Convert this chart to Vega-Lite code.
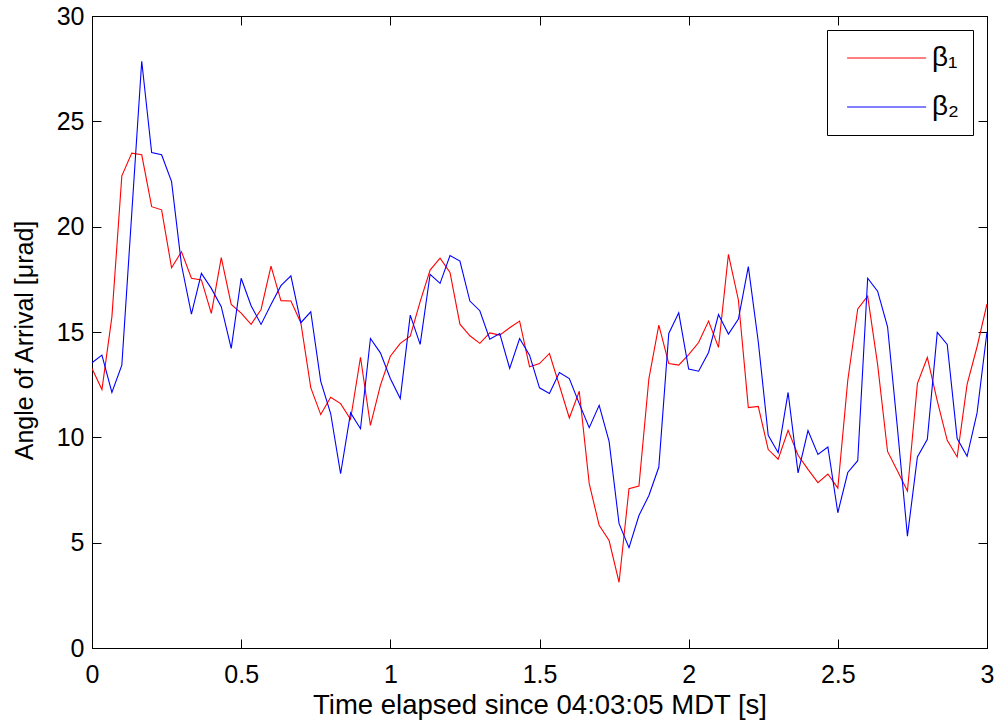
{
  "$schema": "https://vega.github.io/schema/vega-lite/v6.json",
  "width": 895,
  "height": 632,
  "autosize": {"type": "none"},
  "padding": {"left": 92, "top": 16, "right": 10, "bottom": 75},
  "background": "white",
  "config": {
    "font": "Liberation Sans",
    "view": {"stroke": "black", "strokeWidth": 1},
    "axis": {
      "domainColor": "black",
      "domainWidth": 1,
      "tickColor": "black",
      "tickWidth": 1,
      "tickSize": -9,
      "grid": false,
      "labelFont": "Liberation Sans",
      "labelFontSize": 25,
      "labelColor": "black",
      "titleFont": "Liberation Sans",
      "titleFontSize": 25,
      "titleFontWeight": "normal",
      "titleColor": "black"
    },
    "legend": {
      "orient": "top-right",
      "offset": 14,
      "title": null,
      "strokeColor": "black",
      "fillColor": "white",
      "padding": 14,
      "symbolType": "M-1,0H9",
      "symbolSize": 250,
      "symbolStrokeWidth": 1,
      "symbolFillColor": "transparent",
      "labelFont": "Liberation Sans",
      "labelFontSize": 28,
      "labelColor": "black",
      "labelOffset": 63,
      "rowPadding": 21
    }
  },
  "data": {
    "values": [
      {"t": 0.0, "b1": 13.27, "b2": 13.54},
      {"t": 0.0333, "b1": 12.27, "b2": 13.90},
      {"t": 0.0667, "b1": 15.72, "b2": 12.13},
      {"t": 0.1, "b1": 22.41, "b2": 13.43},
      {"t": 0.1333, "b1": 23.49, "b2": 20.64},
      {"t": 0.1667, "b1": 23.41, "b2": 27.85},
      {"t": 0.2, "b1": 20.95, "b2": 23.52},
      {"t": 0.2333, "b1": 20.80, "b2": 23.41},
      {"t": 0.2667, "b1": 18.05, "b2": 22.14},
      {"t": 0.3, "b1": 18.81, "b2": 18.18},
      {"t": 0.3333, "b1": 17.55, "b2": 15.85},
      {"t": 0.3667, "b1": 17.47, "b2": 17.78},
      {"t": 0.4, "b1": 15.88, "b2": 17.07},
      {"t": 0.4333, "b1": 18.53, "b2": 16.20},
      {"t": 0.4667, "b1": 16.31, "b2": 14.22},
      {"t": 0.5, "b1": 15.90, "b2": 17.55},
      {"t": 0.5333, "b1": 15.36, "b2": 16.25},
      {"t": 0.5667, "b1": 16.07, "b2": 15.36},
      {"t": 0.6, "b1": 18.13, "b2": 16.31},
      {"t": 0.6333, "b1": 16.49, "b2": 17.20},
      {"t": 0.6667, "b1": 16.47, "b2": 17.66},
      {"t": 0.7, "b1": 15.44, "b2": 15.44},
      {"t": 0.7333, "b1": 12.36, "b2": 15.96},
      {"t": 0.7667, "b1": 11.08, "b2": 12.66},
      {"t": 0.8, "b1": 11.90, "b2": 11.13},
      {"t": 0.8333, "b1": 11.60, "b2": 8.27},
      {"t": 0.8667, "b1": 10.86, "b2": 11.16},
      {"t": 0.9, "b1": 13.80, "b2": 10.41},
      {"t": 0.9333, "b1": 10.57, "b2": 14.69},
      {"t": 0.9667, "b1": 12.47, "b2": 14.01},
      {"t": 1.0, "b1": 13.85, "b2": 12.79},
      {"t": 1.0333, "b1": 14.46, "b2": 11.84},
      {"t": 1.0667, "b1": 14.80, "b2": 15.80},
      {"t": 1.1, "b1": 16.44, "b2": 14.41},
      {"t": 1.1333, "b1": 17.94, "b2": 17.74},
      {"t": 1.1667, "b1": 18.50, "b2": 17.31},
      {"t": 1.2, "b1": 17.83, "b2": 18.63},
      {"t": 1.2333, "b1": 15.37, "b2": 18.37},
      {"t": 1.2667, "b1": 14.82, "b2": 16.47},
      {"t": 1.3, "b1": 14.46, "b2": 16.01},
      {"t": 1.3333, "b1": 14.96, "b2": 14.66},
      {"t": 1.3667, "b1": 14.85, "b2": 14.93},
      {"t": 1.4, "b1": 15.20, "b2": 13.27},
      {"t": 1.4333, "b1": 15.52, "b2": 14.69},
      {"t": 1.4667, "b1": 13.35, "b2": 13.90},
      {"t": 1.5, "b1": 13.50, "b2": 12.35},
      {"t": 1.5333, "b1": 13.98, "b2": 12.08},
      {"t": 1.5667, "b1": 12.46, "b2": 13.08},
      {"t": 1.6, "b1": 10.92, "b2": 12.79},
      {"t": 1.6333, "b1": 12.19, "b2": 11.60},
      {"t": 1.6667, "b1": 7.80, "b2": 10.46},
      {"t": 1.7, "b1": 5.82, "b2": 11.52},
      {"t": 1.7333, "b1": 5.10, "b2": 9.81},
      {"t": 1.7667, "b1": 3.12, "b2": 5.90},
      {"t": 1.8, "b1": 7.56, "b2": 4.76},
      {"t": 1.8333, "b1": 7.69, "b2": 6.29},
      {"t": 1.8667, "b1": 12.79, "b2": 7.24},
      {"t": 1.9, "b1": 15.33, "b2": 8.59},
      {"t": 1.9333, "b1": 13.50, "b2": 14.93},
      {"t": 1.9667, "b1": 13.43, "b2": 15.91},
      {"t": 2.0, "b1": 13.93, "b2": 13.24},
      {"t": 2.0333, "b1": 14.50, "b2": 13.14},
      {"t": 2.0667, "b1": 15.52, "b2": 14.03},
      {"t": 2.1, "b1": 14.27, "b2": 15.83},
      {"t": 2.1333, "b1": 18.69, "b2": 14.90},
      {"t": 2.1667, "b1": 16.52, "b2": 15.61},
      {"t": 2.2, "b1": 11.41, "b2": 18.10},
      {"t": 2.2333, "b1": 11.47, "b2": 14.54},
      {"t": 2.2667, "b1": 9.42, "b2": 10.10},
      {"t": 2.3, "b1": 8.96, "b2": 9.27},
      {"t": 2.3333, "b1": 10.33, "b2": 12.13},
      {"t": 2.3667, "b1": 9.15, "b2": 8.31},
      {"t": 2.4, "b1": 8.48, "b2": 10.32},
      {"t": 2.4333, "b1": 7.85, "b2": 9.19},
      {"t": 2.4667, "b1": 8.26, "b2": 9.54},
      {"t": 2.5, "b1": 7.59, "b2": 6.42},
      {"t": 2.5333, "b1": 12.70, "b2": 8.33},
      {"t": 2.5667, "b1": 16.09, "b2": 8.89},
      {"t": 2.6, "b1": 16.70, "b2": 17.55},
      {"t": 2.6333, "b1": 13.46, "b2": 16.94},
      {"t": 2.6667, "b1": 9.33, "b2": 15.25},
      {"t": 2.7, "b1": 8.40, "b2": 10.41},
      {"t": 2.7333, "b1": 7.45, "b2": 5.31},
      {"t": 2.7667, "b1": 12.55, "b2": 9.07},
      {"t": 2.8, "b1": 13.79, "b2": 9.91},
      {"t": 2.8333, "b1": 11.73, "b2": 14.98},
      {"t": 2.8667, "b1": 9.86, "b2": 14.41},
      {"t": 2.9, "b1": 9.07, "b2": 9.94},
      {"t": 2.9333, "b1": 12.51, "b2": 9.10},
      {"t": 2.9667, "b1": 14.30, "b2": 11.16},
      {"t": 3.0, "b1": 16.33, "b2": 15.01}
    ]
  },
  "transform": [
    {"fold": ["b1", "b2"], "as": ["key", "angle"]},
    {"lookup": "key", "from": {"data": {"values": [{"key": "b1", "series": "β₁"}, {"key": "b2", "series": "β₂"}]}, "key": "key", "fields": ["series"]}}
  ],
  "layer": [
    {
      "mark": {"type": "line", "strokeWidth": 1.1, "clip": true},
      "encoding": {
        "x": {
          "field": "t", "type": "quantitative",
          "scale": {"domain": [0, 3], "nice": false, "zero": false},
          "axis": {"orient": "bottom", "values": [0, 0.5, 1, 1.5, 2, 2.5, 3], "format": "~g", "labelPadding": 23, "title": "Time elapsed since 04:03:05 MDT [s]", "titleFontSize": 27.5, "titlePadding": 4, "labelFlush": false}
        },
        "y": {
          "field": "angle", "type": "quantitative",
          "scale": {"domain": [0, 30], "nice": false},
          "axis": {"orient": "left", "values": [0, 5, 10, 15, 20, 25, 30], "labelPadding": 17, "title": "Angle of Arrival [μrad]", "titlePadding": 19, "titleY": 324, "labelFlush": false}
        },
        "color": {
          "field": "series", "type": "nominal",
          "scale": {"domain": ["β₁", "β₂"], "range": ["#ff0000", "#0000ff"]},
          "legend": {}
        }
      }
    },
    {
      "mark": {"type": "line", "opacity": 0},
      "encoding": {
        "x": {"field": "t", "type": "quantitative", "axis": {"orient": "top", "values": [0, 0.5, 1, 1.5, 2, 2.5, 3], "labels": false, "title": null}},
        "y": {"field": "angle", "type": "quantitative", "axis": {"orient": "right", "values": [0, 5, 10, 15, 20, 25, 30], "labels": false, "title": null}},
        "detail": {"field": "series"}
      }
    }
  ],
  "resolve": {"axis": {"x": "independent", "y": "independent"}}
}
